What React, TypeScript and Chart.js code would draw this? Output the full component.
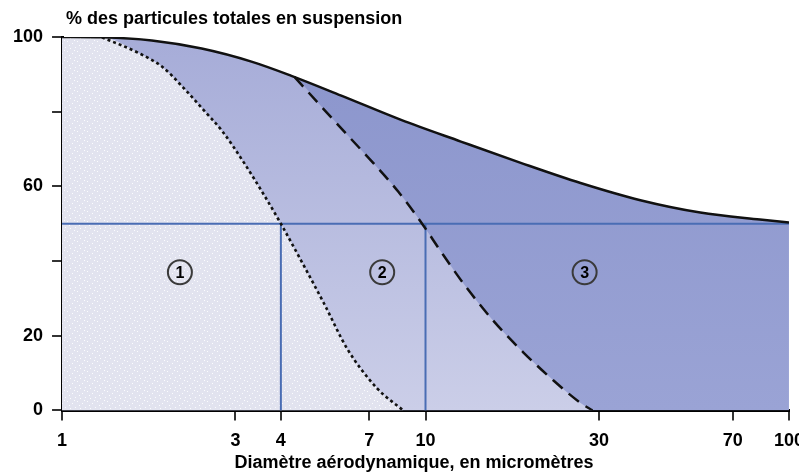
import { useEffect, useRef } from 'react';
import { Chart, registerables } from 'chart.js';

Chart.register(...registerables);

// ---- Text ----
const yAxisTitle = '% des particules totales en suspension';
const xAxisTitle = 'Diamètre aérodynamique, en micromètres';

// ---- Ticks ----
const xTickValues = [1, 3, 4, 7, 10, 30, 70, 100];
const yTickValues = [0, 20, 40, 60, 80, 100];
const yTickLabelled = [0, 20, 60, 100];

// ---- Curves (diameter in µm, % of total suspended particles) ----
// Inhalable fraction (solid)
const inhalableX = [1, 1.288, 1.766, 2.422, 3.32, 4.276, 5.865, 8.566, 12.51, 18.28, 26.7, 39.0, 57.0, 83.2, 100];
const inhalableY = [100, 99.9, 99.06, 96.9, 93.4, 89.6, 84.3, 77.8, 72.0, 66.3, 60.9, 56.3, 53.0, 51.1, 50.3];

// Thoracic fraction (dashed)
const thoracicX = [4.36, 5.266, 6.13, 7.22, 8.41, 9.82, 11.03, 12.76, 15.4, 18.6, 22.5, 26.7, 28.8];
const thoracicY = [89.3, 80.5, 73.5, 66.0, 58.6, 49.8, 42.5, 33.8, 23.9, 15.5, 8.0, 2.0, 0];

// Respirable fraction (dotted)
const respirableX = [1.288, 1.626, 1.893, 2.148, 2.453, 2.748, 3.177, 3.605, 4.0, 4.554, 5.266, 6.09, 7.36, 8.68];
const respirableY = [99.9, 95.7, 91.9, 86.6, 80.4, 75, 66.1, 57.5, 50, 40, 28.5, 16.5, 5.9, 0];

// ---- Cut-off guides ----
const cutoffLevel = 50;
const cutoffSizes = [4, 10];

// ---- Region labels ----
const regionLabels = ['1', '2', '3'];
const regionLabelX = [2.11, 7.6, 27.4];
const regionLabelY = [37, 37, 37];

const pts = (xs: number[], ys: number[]) => xs.map((x, i) => ({ x, y: ys[i] }));

const FONT = 'Arial, "Liberation Sans", Helvetica, sans-serif';

export default function App() {
  const canvasRef = useRef<HTMLCanvasElement | null>(null);

  useEffect(() => {
    const canvas = canvasRef.current;
    if (!canvas) return;

    // speckled pale fill for region 1
    const tile = document.createElement('canvas');
    tile.width = 10;
    tile.height = 10;
    const tctx = tile.getContext('2d')!;
    tctx.fillStyle = '#e2e3ef';
    tctx.fillRect(0, 0, 10, 10);
    tctx.fillStyle = 'rgba(255,255,255,0.9)';
    [[2, 3], [7, 1], [5, 7], [9, 5], [0, 8], [4, 0]].forEach(([a, b]) => tctx.fillRect(a, b, 1, 1));
    const pattern = tctx.createPattern(tile, 'repeat') || '#e3e4f0';

    const inhal = pts(inhalableX, inhalableY);
    const thor = pts(thoracicX, thoracicY);
    const resp = pts(respirableX, respirableY);
    const thorFill = inhal.filter((p) => p.x < thoracicX[0]).concat(thor);
    const respFill = inhal.filter((p) => p.x < respirableX[0]).concat(resp);

    const grad = (top: string, bottom: string) => (ctx: any) => {
      const area = ctx.chart.chartArea;
      if (!area) return bottom;
      const g = ctx.chart.ctx.createLinearGradient(0, area.top, 0, area.bottom);
      g.addColorStop(0, top);
      g.addColorStop(1, bottom);
      return g;
    };

    const curveBase = {
      pointRadius: 0,
      fill: false,
      cubicInterpolationMode: 'monotone' as const,
      borderColor: '#111',
      borderWidth: 2.5,
    };
    const guideBase = {
      pointRadius: 0,
      fill: false,
      tension: 0,
      borderColor: '#4a6db4',
      borderWidth: 2,
    };
    const fillBase = {
      pointRadius: 0,
      borderWidth: 0,
      borderColor: 'rgba(0,0,0,0)',
      cubicInterpolationMode: 'monotone' as const,
      fill: 'origin' as const,
    };

    const decorPlugin = {
      id: 'decor',
      afterDatasetsDraw(chart: any) {
        const { ctx, scales } = chart;
        const xs = scales.x;
        const ys = scales.y;
        ctx.save();
        regionLabels.forEach((t, i) => {
          const px = xs.getPixelForValue(regionLabelX[i]);
          const py = ys.getPixelForValue(regionLabelY[i]);
          ctx.beginPath();
          ctx.arc(px, py, 12, 0, Math.PI * 2);
          ctx.lineWidth = 2;
          ctx.strokeStyle = '#3a3a3a';
          ctx.stroke();
          ctx.fillStyle = '#000';
          ctx.font = `bold 16px ${FONT}`;
          ctx.textAlign = 'center';
          ctx.textBaseline = 'middle';
          ctx.fillText(t, px, py + 1);
        });
        ctx.restore();
      },
      afterDraw(chart: any) {
        const { ctx, chartArea } = chart;
        ctx.save();
        ctx.fillStyle = '#000';
        ctx.font = `bold 18px ${FONT}`;
        ctx.textBaseline = 'alphabetic';
        ctx.textAlign = 'left';
        ctx.fillText(yAxisTitle, chartArea.left + 4, chartArea.top - 13);
        ctx.textAlign = 'center';
        ctx.fillText(xAxisTitle, chartArea.left + 352, chartArea.bottom + 58);
        ctx.restore();
      },
    };

    const tickFont = { family: FONT, size: 18, weight: 'bold' as const };

    const chart = new Chart(canvas, {
      type: 'line',
      data: {
        datasets: [
          { ...curveBase, label: 'inhalable', data: inhal },
          { ...curveBase, label: 'thoracic', data: thor, borderDash: [13, 8] },
          { ...curveBase, label: 'respirable', data: resp, borderDash: [3, 3], borderWidth: 2.6 },
          {
            ...guideBase,
            label: 'level',
            data: [
              { x: xTickValues[0], y: cutoffLevel },
              { x: xTickValues[xTickValues.length - 1], y: cutoffLevel },
            ],
          },
          ...cutoffSizes.map((s) => ({
            ...guideBase,
            label: 'cut ' + s,
            data: [
              { x: s, y: 0 },
              { x: s, y: cutoffLevel },
            ],
          })),
          { ...fillBase, label: 'f1', data: respFill, backgroundColor: pattern as any },
          { ...fillBase, label: 'f2', data: thorFill, backgroundColor: grad('#a6acd8', '#cbcee8') as any },
          { ...fillBase, label: 'f3', data: inhal, backgroundColor: grad('#8b95cc', '#9aa3d5') as any },
        ] as any,
      },
      options: {
        animation: false,
        responsive: false,
        parsing: false as any,
        layout: { padding: { left: 4, top: 37, right: 0, bottom: 10 } },
        plugins: {
          legend: { display: false },
          tooltip: { enabled: false },
          title: { display: false },
        },
        elements: { line: { borderJoinStyle: 'round' } },
        scales: {
          x: {
            type: 'logarithmic',
            min: 1,
            max: 100,
            afterBuildTicks: (s: any) => {
              s.ticks = xTickValues.map((v) => ({ value: v }));
            },
            ticks: {
              autoSkip: false,
              maxRotation: 0,
              color: '#000',
              font: tickFont,
              padding: 10,
              callback: (v: any) => String(v),
            },
            grid: { drawOnChartArea: false, drawTicks: true, tickLength: 10, color: '#333', lineWidth: 2 },
            border: { display: true, color: '#000', width: 3 },
          },
          y: {
            type: 'linear',
            min: 0,
            max: 100,
            afterBuildTicks: (s: any) => {
              s.ticks = yTickValues.map((v) => ({ value: v }));
            },
            ticks: {
              color: '#000',
              font: tickFont,
              padding: 9,
              callback: (v: any) => (yTickLabelled.includes(Number(v)) ? String(v) : ''),
            },
            grid: { drawOnChartArea: false, drawTicks: true, tickLength: 10, color: '#333', lineWidth: 2 },
            border: { display: true, color: '#000', width: 3 },
          },
        },
      } as any,
      plugins: [decorPlugin],
    });

    return () => chart.destroy();
  }, []);

  return (
    <div
      style={{
        position: 'fixed',
        left: 0,
        top: 0,
        width: 799,
        height: 472,
        overflow: 'hidden',
        background: '#fff',
      }}
    >
      <canvas ref={canvasRef} width={814} height={472} style={{ display: 'block' }} />
    </div>
  );
}
